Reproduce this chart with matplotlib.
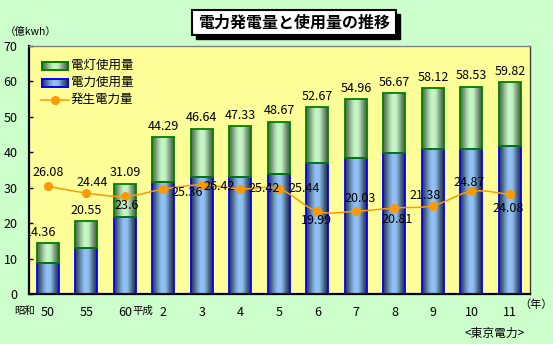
import matplotlib.pyplot as plt
import numpy as np
from matplotlib.colors import LinearSegmentedColormap
from matplotlib.patches import Rectangle, PathPatch
from matplotlib.path import Path
from matplotlib.lines import Line2D

plt.rcParams['font.family'] = ['Noto Sans CJK JP', 'DejaVu Sans']

# data (億kWh)
years = ['50', '55', '60', '2', '3', '4', '5', '6', '7', '8', '9', '10', '11']
total_use = [14.36, 20.55, 31.09, 44.29, 46.64, 47.33, 48.67, 52.67, 54.96, 56.67, 58.12, 58.53, 59.82]
power_use = [8.8, 13.0, 21.7, 31.5, 33.0, 33.0, 34.0, 36.9, 38.3, 39.7, 40.8, 40.8, 41.8]
generated = [26.08, 24.44, 23.6, 25.36, 26.42, 25.42, 25.44, 19.99, 20.03, 20.81, 21.38, 24.87, 24.08]
series_names = ['電灯使用量', '電力使用量', '発生電力量']

# label offsets for the generated-power line, in pixels (dx, dy up)
gen_offsets = [(0, 14), (6, 10), (2, -9), (24, -3), (17, -2), (24, 0), (25, 0),
               (-1, -9), (4, 13), (3, -12), (-8, 10), (-2, 9), (-2, -14)]

W, H = 553, 344
def fx(px):
    return px / W
def fy(py):
    return 1 - py / H
PT = 0.72  # px -> points at 100 dpi

blue_cmap = LinearSegmentedColormap.from_list('b', [
    (0.0, '#2c3a55'), (0.12, '#42597d'), (0.3, '#739ccb'), (0.45, '#93c4f5'),
    (0.62, '#8cbcee'), (0.78, '#5a7aa0'), (0.92, '#34445e'), (1.0, '#2c3a55')])
green_cmap = LinearSegmentedColormap.from_list('g', [
    (0.0, '#4d6a4d'), (0.12, '#6b896b'), (0.3, '#a4d2a4'), (0.45, '#c8f8c8'),
    (0.62, '#bff0bf'), (0.78, '#8cab8c'), (0.92, '#5c765c'), (1.0, '#4d6a4d')])
grad = np.linspace(0, 1, 64).reshape(1, -1)

fig = plt.figure(figsize=(W / 100, H / 100), dpi=100, facecolor='#ccffcc')
ax = fig.add_axes([fx(29.3), fy(294), (530 - 29.3) / W, 248 / H])
ax.set_facecolor('#ffff99')

x = np.arange(len(years))
light_use = np.array(total_use) - np.array(power_use)
bw = 0.57

blue_bars = ax.bar(x, power_use, width=bw, color='none', edgecolor='#0000ff', lw=1.3, zorder=3)
green_bars = ax.bar(x, light_use, bottom=power_use, width=bw, color='none',
                    edgecolor='#008000', lw=1.3, zorder=3)
for bars, cmap in ((blue_bars, blue_cmap), (green_bars, green_cmap)):
    for b in bars:
        x0, y0 = b.get_x(), b.get_y()
        im = ax.imshow(grad, extent=[x0, x0 + b.get_width(), y0, y0 + b.get_height()],
                       aspect='auto', cmap=cmap, zorder=2, interpolation='bilinear')
        im.set_clip_path(b)

ax.set_xlim(-0.48, 12.52)
ax.set_ylim(0, 70)
ax.set_yticks(range(0, 71, 10))
ax.set_xticks(x, years)
ax.tick_params(axis='x', length=0, pad=8.5, labelsize=9)
ax.tick_params(axis='y', direction='in', length=3, width=1, pad=8.5, labelsize=9)
ax.spines['left'].set_linewidth(1.6)
ax.spines['bottom'].set_linewidth(1.6)
ax.spines['top'].set_color('#808080')
ax.spines['right'].set_color('#404040')
ax.spines['top'].set_linewidth(1)
ax.spines['right'].set_linewidth(1)

# era names before the first tick of each era
ax.annotate('昭和', (0, 0), xytext=(-23 * PT, -17 * PT), textcoords='offset points',
            ha='center', va='center', fontsize=7.5, annotation_clip=False)
ax.annotate('平成', (3, 0), xytext=(-20 * PT, -17 * PT), textcoords='offset points',
            ha='center', va='center', fontsize=7.5, annotation_clip=False)

# total labels
for i, v in enumerate(total_use):
    dx = -7 if i == 0 else 0
    t = ax.annotate(f'{v:.2f}', (i, v), xytext=(dx * PT, 11 * PT), textcoords='offset points',
                    ha='center', va='center', fontsize=9, zorder=5)
    t.set_clip_on(True)
    t.set_clip_path(ax.patch)

# generated power line on hidden secondary scale 0-60
ax2 = ax.twinx()
ax2.set_ylim(0, 60)
ax2.set_xlim(ax.get_xlim())
ax2.set_yticks([])
for s in ax2.spines.values():
    s.set_visible(False)

P = np.column_stack([x, generated]).astype(float)
n = len(P)
verts = [P[0]]
codes = [Path.MOVETO]
for i in range(n - 1):
    pp = P[i - 1] if i > 0 else P[i]
    pn = P[i + 2] if i + 2 < n else P[i + 1]
    verts += [P[i] + (P[i + 1] - pp) / 6, P[i + 1] - (pn - P[i]) / 6, P[i + 1]]
    codes += [Path.CURVE4] * 3
ax2.add_patch(PathPatch(Path(verts, codes), facecolor='none', edgecolor='#ff9900', lw=1.1, zorder=4))
ax2.plot(x, generated, 'o', color='#ff9900', ms=5.5, zorder=5)
for i, v in enumerate(generated):
    dx, dy = gen_offsets[i]
    ax2.annotate(f'{v:g}', (i, v), xytext=(dx * PT, dy * PT), textcoords='offset points',
                 ha='center', va='center', fontsize=9, zorder=6)

# legend (drawn by hand to keep the gradient swatches)
for j, cmap, ec in ((0, green_cmap, '#008000'), (1, blue_cmap, '#0000ff')):
    cy = 65.5 + 17 * j
    lax = fig.add_axes([fx(42), fy(cy + 4), 26 / W, 8 / H])
    lax.imshow(grad, aspect='auto', cmap=cmap, interpolation='bilinear')
    lax.set_xticks([])
    lax.set_yticks([])
    for s in lax.spines.values():
        s.set_color(ec)
        s.set_linewidth(1.4)
    fig.text(fx(71), fy(cy), series_names[j], ha='left', va='center', fontsize=9)
fig.add_artist(Line2D([fx(41), fx(69)], [fy(99.5), fy(99.5)], color='#ff9900', lw=1.1))
fig.add_artist(Line2D([fx(55)], [fy(99.5)], marker='o', color='#ff9900', ms=5.5))
fig.text(fx(71), fy(99.5), series_names[2], ha='left', va='center', fontsize=9)

# title box with shadow
fig.add_artist(Rectangle((fx(196), fy(39)), 204 / W, 25 / H, transform=fig.transFigure,
                         facecolor='black', edgecolor='black'))
fig.add_artist(Rectangle((fx(192), fy(35)), 204 / W, 25 / H, transform=fig.transFigure,
                         facecolor='white', edgecolor='black', lw=1.5))
fig.text(fx(294), fy(22.5), '電力発電量と使用量の推移', ha='center', va='center',
         fontsize=11.5, fontweight='bold')

fig.text(fx(31), fy(32), '（億kwh）', ha='center', va='center', fontsize=7.5)
fig.text(fx(536), fy(305), '（年）', ha='center', va='center', fontsize=8)
fig.text(fx(495), fy(333), '<東京電力>', ha='center', va='center', fontsize=8.5)

fig.savefig('out.png', dpi=100, facecolor=fig.get_facecolor())
